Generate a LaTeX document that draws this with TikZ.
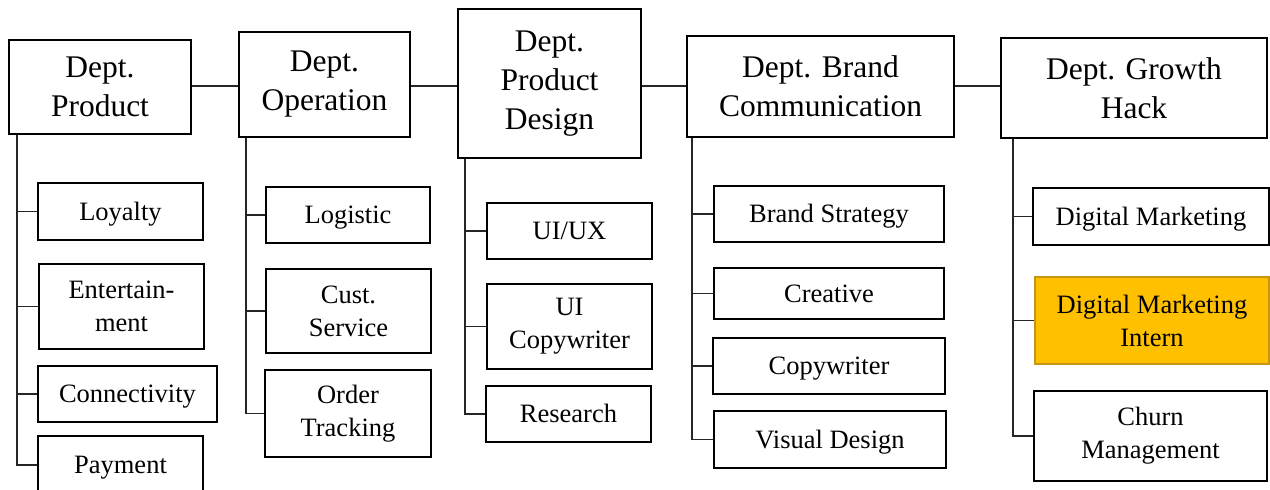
\documentclass[tikz,border=0pt]{standalone}
\usepackage{fontspec}
\setmainfont{Liberation Serif}
\definecolor{internfill}{RGB}{255,192,0}
\definecolor{interndraw}{RGB}{196,150,20}
\begin{document}
\begin{tikzpicture}[x=1pt,y=-1pt,
  topbox/.style={draw=black,line width=1.6pt,align=center,inner sep=0pt,
    font=\fontsize{31.5}{39}\selectfont},
  subbox/.style={draw=black,line width=1.6pt,align=center,inner sep=0pt,
    font=\fontsize{26.5}{33}\selectfont},
  onebox/.style={subbox,text height=18pt,text depth=0.5pt},
  conn/.style={draw=black!85,line width=1.1pt}]
\useasboundingbox (0,0) rectangle (1270,490);
% top departments
\node[topbox,minimum width=182pt,minimum height=94pt] (prod) at (100,87) {Dept.\\Product};
\node[topbox,minimum width=171pt,minimum height=105pt] (oper) at (324.5,84.5) {Dept.\\Operation};
\node[topbox,minimum width=183pt,minimum height=149pt] (design) at (549.5,83.5) {Dept.\\Product\\Design};
\node[topbox,minimum width=267pt,minimum height=101pt] (brand) at (820.5,86.5) {Dept. Brand\\Communication};
\node[topbox,minimum width=266pt,minimum height=100pt] (growth) at (1134,88) {Dept. Growth\\Hack};
% product children
\node[onebox,minimum width=165pt,minimum height=57pt] (loyal) at (120.5,211.5) {Loyalty};
\node[subbox,minimum width=165pt,minimum height=85pt] (ent) at (121.5,306.5) {Entertain-\\ment};
\node[onebox,minimum width=179pt,minimum height=56pt] (connv) at (127.5,394) {Connectivity};
\node[onebox,minimum width=165pt,minimum height=58pt] (pay) at (120.5,465) {Payment};
% operation children
\node[onebox,minimum width=164pt,minimum height=56pt] (logi) at (348,215) {Logistic};
\node[subbox,minimum width=165pt,minimum height=84pt] (cust) at (348.5,311) {Cust.\\Service};
\node[subbox,minimum width=166pt,minimum height=87pt] (order) at (348,413.5) {Order\\Tracking};
% design children
\node[onebox,minimum width=165pt,minimum height=56pt] (uiux) at (569.5,231) {UI/UX};
\node[subbox,minimum width=165pt,minimum height=85pt] (uicopy) at (569.5,326.5) {UI\\Copywriter};
\node[onebox,minimum width=165pt,minimum height=56pt] (research) at (568.5,414) {Research};
% brand children
\node[onebox,minimum width=230pt,minimum height=56pt] (bstrat) at (829,214) {Brand Strategy};
\node[onebox,minimum width=230pt,minimum height=51pt] (creative) at (829,293.5) {Creative};
\node[onebox,minimum width=232pt,minimum height=56pt] (copyw) at (829,366) {Copywriter};
\node[onebox,minimum width=232pt,minimum height=57pt] (visual) at (830,439.5) {Visual Design};
% growth children
\node[onebox,minimum width=236pt,minimum height=57pt] (dm) at (1151,216.5) {Digital Marketing};
\node[subbox,draw=interndraw,fill=internfill,minimum width=234pt,minimum height=87pt] (intern) at (1152,320.5) {Digital Marketing\\Intern};
\node[subbox,minimum width=233pt,minimum height=90pt] (churn) at (1150.5,436) {Churn\\Management};
% horizontal links between departments
\coordinate (hy) at (0,86);
\draw[conn] (prod.east |- hy) -- (oper.west |- hy);
\draw[conn] (oper.east |- hy) -- (design.west |- hy);
\draw[conn] (design.east |- hy) -- (brand.west |- hy);
\draw[conn] (brand.east |- hy) -- (growth.west |- hy);
% trees
\coordinate (px) at (17,0);
\coordinate (ox) at (246,0);
\coordinate (dx) at (465,0);
\coordinate (bx) at (692,0);
\coordinate (gx) at (1013,0);
\foreach \c in {loyal,ent,connv,pay} \draw[conn] (prod.south -| px) |- (\c.west);
\foreach \c in {logi,cust,order} \draw[conn] (oper.south -| ox) |- (\c.west);
\foreach \c in {uiux,uicopy,research} \draw[conn] (design.south -| dx) |- (\c.west);
\foreach \c in {bstrat,creative,copyw,visual} \draw[conn] (brand.south -| bx) |- (\c.west);
\foreach \c in {dm,intern,churn} \draw[conn] (growth.south -| gx) |- (\c.west);
\end{tikzpicture}
\end{document}
